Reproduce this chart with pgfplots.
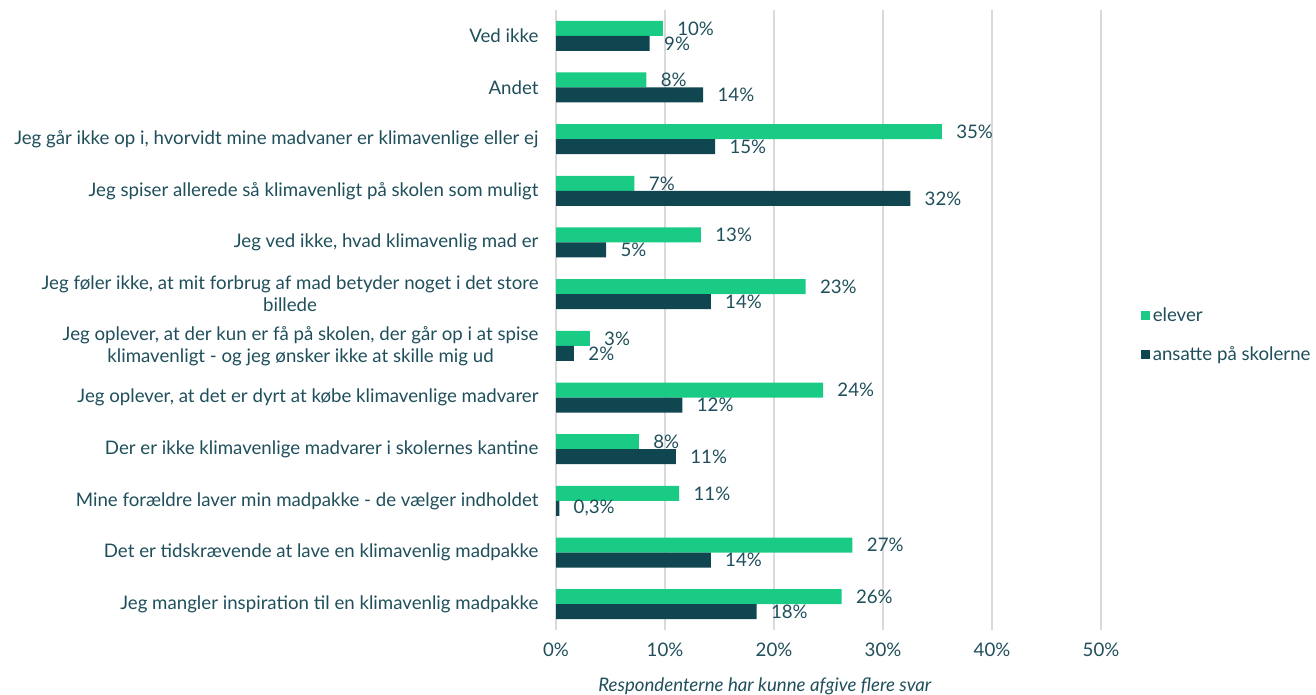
\documentclass[border=0pt]{standalone}
\usepackage{pgfplots}
\pgfplotsset{compat=1.18}
\usepackage{fontspec}
\setmainfont{Lato}
\definecolor{grn}{HTML}{19CB84}
\definecolor{drk}{HTML}{0F4650}
\definecolor{txt}{HTML}{1F4F5B}
\definecolor{grd}{HTML}{D9D9D9}
\newcommand\f{\fontsize{14pt}{16.5pt}\selectfont}
\begin{document}
\begin{tikzpicture}
\path[use as bounding box] (0pt,0pt) rectangle (987pt,521.25pt);
\begin{axis}[
  at={(417pt,48.75pt)}, anchor=south west,
  scale only axis, width=408.75pt, height=465pt,
  xbar, bar width=11.25pt,
  xmin=0, xmax=50, ymin=-0.5, ymax=11.5, y dir=reverse,
  axis line style={draw=none},
  major tick length=0pt,
  xmajorgrids, grid style={grd, line width=1.1pt},
  xtick={0,10,20,30,40,50},
  xticklabels={0\%,10\%,20\%,30\%,40\%,50\%},
  ytick={0,1,2,3,4,5,6,7,8,9,10,11},
  yticklabels={
    {Ved ikke},
    {Andet},
    {Jeg går ikke op i, hvorvidt mine madvaner er klimavenlige eller ej},
    {Jeg spiser allerede så klimavenligt på skolen som muligt},
    {Jeg ved ikke, hvad klimavenlig mad er},
    {Jeg føler ikke, at mit forbrug af mad betyder noget i det store\\billede},
    {Jeg oplever, at der kun er få på skolen, der går op i at spise\\klimavenligt - og jeg ønsker ikke at skille mig ud},
    {Jeg oplever, at det er dyrt at købe klimavenlige madvarer},
    {Der er ikke klimavenlige madvarer i skolernes kantine},
    {Mine forældre laver min madpakke - de vælger indholdet},
    {Det er tidskrævende at lave en klimavenlig madpakke},
    {Jeg mangler inspiration til en klimavenlig madpakke}},
  ticklabel style={font=\f, text=txt},
  yticklabel style={align=center, xshift=-9.6pt},
  xticklabel style={yshift=-6pt},
  xlabel={Respondenterne har kunne afgive flere svar},
  xlabel style={at={(axis description cs:0.383,-0.0903)}, anchor=center, font=\f\itshape, text=txt},
  nodes near coords={\pgfplotspointmeta\%},
  point meta=explicit symbolic,
  nodes near coords style={anchor=west, xshift=7.3pt, font=\f, text=txt},
  legend style={at={(axis description cs:1.073,0.476)}, anchor=west, draw=none, fill=none,
    font=\f, text=txt, row sep=13pt, inner sep=0pt, cells={anchor=west}},
  legend image code/.code={\fill[#1] (0pt,-3.4pt) rectangle (6.8pt,3.4pt);},
]
\addplot[fill=grn, draw=none, bar shift=5.625pt] coordinates {
  (9.8,0) [10] (8.3,1) [8] (35.4,2) [35] (7.2,3) [7] (13.3,4) [13] (22.9,5) [23]
  (3.1,6) [3] (24.5,7) [24] (7.6,8) [8] (11.3,9) [11] (27.2,10) [27] (26.2,11) [26]
};
\addplot[fill=drk, draw=none, bar shift=-5.625pt] coordinates {
  (8.6,0) [9] (13.5,1) [14] (14.6,2) [15] (32.5,3) [32] (4.6,4) [5] (14.2,5) [14]
  (1.65,6) [2] (11.6,7) [12] (11.0,8) [11] (0.3,9) [{0,3}] (14.2,10) [14] (18.4,11) [18]
};
\legend{elever, ansatte på skolerne}
\end{axis}
\end{tikzpicture}
\end{document}
